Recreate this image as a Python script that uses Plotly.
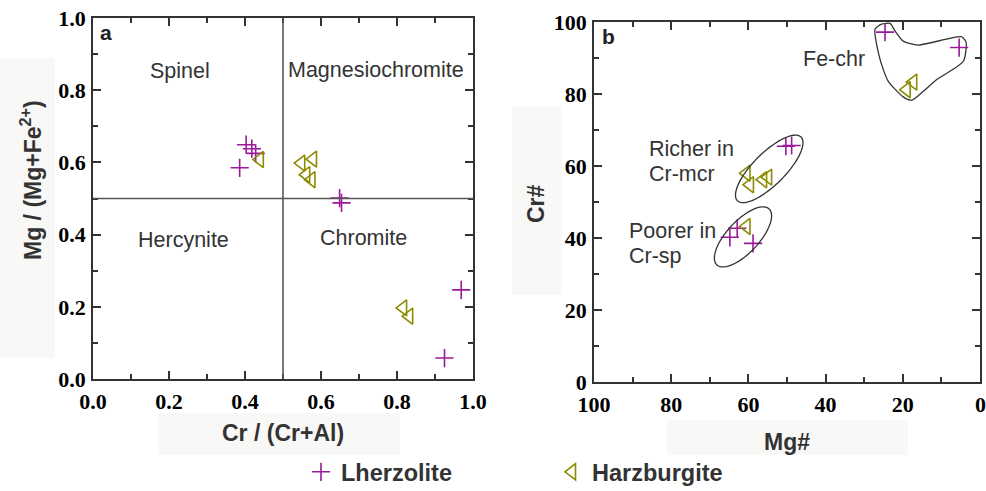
import numpy as np
import plotly.graph_objects as go

W, H = 986, 491

# ---------------- Data ----------------
# Panel a: Cr/(Cr+Al) vs Mg/(Mg+Fe2+)
lherz_a_x = [0.403, 0.418, 0.428, 0.386, 0.649, 0.654, 0.969, 0.925]
lherz_a_y = [0.649, 0.638, 0.625, 0.585, 0.501, 0.488, 0.247, 0.058]
harz_a_x = [0.439, 0.548, 0.579, 0.561, 0.575, 0.816, 0.832]
harz_a_y = [0.608, 0.598, 0.609, 0.566, 0.552, 0.197, 0.174]

# Panel b: Mg# vs Cr#
lherz_b_x = [24.6, 5.4, 50.3, 48.8, 64.8, 62.9, 58.8]
lherz_b_y = [97.2, 92.9, 65.5, 65.7, 40.2, 42.7, 38.5]
harz_b_x = [19.0, 17.3, 60.5, 59.6, 56.2, 54.9, 60.5]
harz_b_y = [81.2, 83.3, 58.0, 54.8, 56.2, 56.9, 43.2]

# Fe-chr outline (Mg#, Cr#)
fechr_x = [27.2, 25.5, 23.3, 22.0, 19.9, 16.0, 4.8, 3.6, 4.3, 11.2, 17.7, 19.9, 23.8, 25.9, 27.2]
fechr_y = [98.0, 99.4, 99.6, 97.5, 94.7, 93.6, 95.9, 94.4, 89.1, 84.0, 78.3, 79.2, 83.6, 89.6, 98.0]

# Tick labels
ticks_a = [0.0, 0.2, 0.4, 0.6, 0.8, 1.0]
ticks_b = [100, 80, 60, 40, 20, 0]

series_names = ["Lherzolite", "Harzburgite"]
PURPLE = "#9a1a9a"
OLIVE = "#8c8c00"
TXT = "#333333"

# ---------------- Geometry ----------------
def px(x):
    return x / W

def py(y):
    return 1 - y / H

ax_a = dict(l=93, r=473, t=18, b=379)
ax_b = dict(l=594, r=980, t=22, b=382)

fig = go.Figure()

mk_l = dict(symbol="cross-thin", size=13, color=PURPLE, line=dict(color=PURPLE, width=1.6))
mk_h = dict(symbol="triangle-left-open", size=14, color=OLIVE, line=dict(color=OLIVE, width=1.6))

fig.add_trace(go.Scatter(x=lherz_a_x, y=lherz_a_y, mode="markers", marker=mk_l,
                         name=series_names[0], xaxis="x", yaxis="y", legendgroup="l"))
fig.add_trace(go.Scatter(x=harz_a_x, y=harz_a_y, mode="markers", marker=mk_h,
                         name=series_names[1], xaxis="x", yaxis="y", legendgroup="h"))
fig.add_trace(go.Scatter(x=fechr_x, y=fechr_y, mode="lines",
                         line=dict(color="#333333", width=1.3, shape="spline", smoothing=0.6),
                         xaxis="x2", yaxis="y2", showlegend=False, hoverinfo="skip"))
fig.add_trace(go.Scatter(x=lherz_b_x, y=lherz_b_y, mode="markers", marker=mk_l,
                         name=series_names[0], xaxis="x2", yaxis="y2", legendgroup="l", showlegend=False))
fig.add_trace(go.Scatter(x=harz_b_x, y=harz_b_y, mode="markers", marker=mk_h,
                         name=series_names[1], xaxis="x2", yaxis="y2", legendgroup="h", showlegend=False))

# ellipses in panel b (drawn in pixel-space orientation, converted to data)
sx_b = (ax_b["r"] - ax_b["l"]) / 100.0
sy_b = (ax_b["b"] - ax_b["t"]) / 100.0

def ellipse_path(cx, cy, a, b, theta_deg):
    t = np.linspace(0, 2 * np.pi, 73)
    th = np.radians(theta_deg)
    dxp = a * np.cos(t) * np.cos(th) - b * np.sin(t) * np.sin(th)
    dyp = a * np.cos(t) * np.sin(th) + b * np.sin(t) * np.cos(th)
    xs = cx - dxp / sx_b   # x axis reversed
    ys = cy + dyp / sy_b
    return "M " + " L ".join(f"{x:.3f},{y:.3f}" for x, y in zip(xs, ys)) + " Z"

shapes = []
for cx, cy, a, b, th in [(54.6, 59.2, 45, 16, 45), (61.4, 40.3, 38.3, 16, 47)]:
    shapes.append(dict(type="path", path=ellipse_path(cx, cy, a, b, th), xref="x2", yref="y2",
                       line=dict(color="#333333", width=1.3)))

# quadrant lines in panel a
shapes.append(dict(type="line", xref="x", yref="y", x0=0.5, x1=0.5, y0=0, y1=1,
                   line=dict(color="#555555", width=1.6)))
shapes.append(dict(type="line", xref="x", yref="y", x0=0, x1=1, y0=0.5, y1=0.5,
                   line=dict(color="#555555", width=1.6)))

# faint background boxes behind axis titles
for (x0, y0, x1, y1) in [(0, 58, 55, 358), (158, 413, 400, 455), (512, 106, 562, 295), (667, 420, 908, 455)]:
    shapes.append(dict(type="rect", xref="paper", yref="paper", x0=px(x0), x1=px(x1), y0=py(y1), y1=py(y0),
                       fillcolor="#f8f8f7", line=dict(width=0), layer="below"))

tickfont = dict(family="Liberation Serif, Times New Roman, serif", size=22, color="black", weight="bold")

def axis_common(rng, tvals, tfmt, mdtick, domain, anchor, standoff):
    return dict(range=rng, tickmode="array", tickvals=tvals,
                ticktext=[format(v, tfmt) for v in tvals], domain=domain, anchor=anchor,
                showgrid=False, zeroline=False, showline=True, linecolor="#333333", linewidth=1.6,
                mirror="ticks", ticks="inside", ticklen=8, tickwidth=1.5, tickcolor="#333333",
                minor=dict(dtick=mdtick, tickmode="linear", ticks="inside", ticklen=5, tickwidth=1.5,
                           tickcolor="#333333", showgrid=False),
                tickfont=tickfont, ticklabelstandoff=standoff, automargin=False,
                ticklabeloverflow="allow")

xa = axis_common([0, 1], ticks_a, ".1f", 0.1, [px(ax_a["l"]), px(ax_a["r"])], "y", 2)
ya = axis_common([0, 1], ticks_a, ".1f", 0.1, [py(ax_a["b"]), py(ax_a["t"])], "x", 1)
# last x2 label (at the right edge) is written as an annotation so it is not hidden
xb = axis_common([100, 0], ticks_b, "d", 10, [px(ax_b["l"]), px(ax_b["r"])], "y2", 2)
xb.update(ticktext=[format(v, "d") for v in ticks_b[:-1]] + [""])
yb = axis_common([0, 100], ticks_b, "d", 10, [py(ax_b["b"]), py(ax_b["t"])], "x2", 1)

ann_font = dict(family="Liberation Sans, Arial, sans-serif", size=21.5, color=TXT)
title_font = dict(family="Liberation Sans, Arial, sans-serif", size=23, color=TXT, weight="bold")

def pann(text, x, y, font, xanchor="center", **kw):
    d = dict(text=text, x=px(x), y=py(y), xref="paper", yref="paper", showarrow=False, font=font,
             xanchor=xanchor, yanchor="middle")
    d.update(kw)
    return d

annotations = [
    dict(text="Spinel", x=0.228, y=0.852, xref="x", yref="y", showarrow=False, font=ann_font),
    dict(text="Magnesiochromite", x=0.746, y=0.855, xref="x", yref="y", showarrow=False, font=ann_font),
    dict(text="Hercynite", x=0.237, y=0.384, xref="x", yref="y", showarrow=False, font=ann_font),
    dict(text="Chromite", x=0.711, y=0.391, xref="x", yref="y", showarrow=False, font=ann_font),
    pann("Fe-chr", 867, 59, ann_font, xanchor="right"),
    pann("Richer in", 647, 149, ann_font, xanchor="left"),
    pann("Cr-mcr", 647, 174, ann_font, xanchor="left"),
    pann("Poorer in", 627, 231, ann_font, xanchor="left"),
    pann("Cr-sp", 627, 256, ann_font, xanchor="left"),
    pann("a", 106, 33, dict(family="Liberation Sans, Arial, sans-serif", size=21, color="#222222", weight="bold")),
    pann("b", 608, 37, dict(family="Liberation Sans, Arial, sans-serif", size=21, color="#222222", weight="bold")),
    pann("Cr / (Cr+Al)", 283, 433, title_font),
    pann("Mg / (Mg+Fe<sup>2+</sup>)", 31, 180, title_font, textangle=-90),
    pann("Cr#", 536, 204, title_font, textangle=-90),
    pann("Mg#", 787, 442, title_font),
    dict(text=format(ticks_b[-1], "d"), x=ticks_b[-1], xref="x2", y=py(404), yref="paper",
         showarrow=False, font=tickfont, xanchor="center", yanchor="middle"),
]

fig.update_layout(
    width=W, height=H, margin=dict(l=0, r=0, t=0, b=0, autoexpand=False),
    paper_bgcolor="white", plot_bgcolor="white",
    xaxis=xa, yaxis=ya, xaxis2=xb, yaxis2=yb,
    shapes=shapes, annotations=annotations,
    showlegend=True,
    legend=dict(orientation="h", x=px(301), y=py(472), xanchor="left", yanchor="middle",
                entrywidth=206, entrywidthmode="pixels",
                font=dict(family="Liberation Sans, Arial, sans-serif", size=23.5, color=TXT, weight="bold"),
                bgcolor="rgba(0,0,0,0)", itemwidth=30),
)

fig.write_html("out.html", config={"displayModeBar": False},
               post_script="document.body.style.margin='0px';document.body.style.overflow='hidden';")
